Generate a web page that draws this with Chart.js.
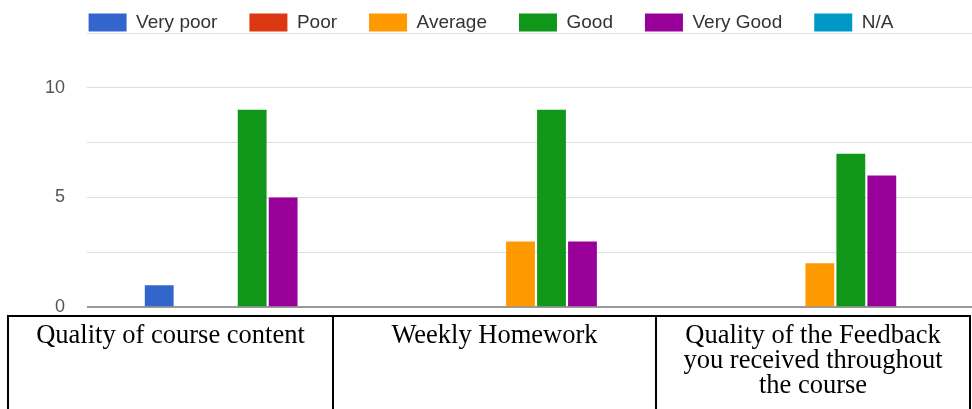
<!DOCTYPE html>
<html>
<head>
<meta charset="utf-8">
<script src="https://cdn.jsdelivr.net/npm/chart.js@4/dist/chart.umd.min.js"></script>
<style>
    html, body { margin: 0; padding: 0; background: #fff; width: 972px; height: 409px; overflow: hidden; position: relative; }
    #chart-wrap { position: absolute; left: -3px; top: -19px; width: 989px; height: 359px; }
    #labels-table {
        position: absolute; left: 7px; top: 315px;
        border-collapse: collapse; table-layout: fixed;
        font-family: "Liberation Serif", "Times New Roman", serif; font-size: 26.5px; line-height: 25px; color: #000;
    }
    #labels-table td {
        border: 2px solid #000; vertical-align: top; text-align: center;
        padding: 5px 4px 0 4px; height: 120px; white-space: pre-line;
    }
</style>
</head>
<body>
<div id="chart-wrap"><canvas id="ratingChart"></canvas></div>
<table id="labels-table"><tr id="labels-row"></tr></table>

<script>
// Survey ratings per question
const categories = [
    'Quality of course content',
    'Weekly Homework',
    'Quality of the Feedback\nyou received throughout\nthe course',
];
const ratingLabels = ['Very poor', 'Poor', 'Average', 'Good', 'Very Good', 'N/A'];
const veryPoor = [1, 0, 0];
const poor = [0, 0, 0];
const average = [0, 3, 2];
const good = [9, 9, 7];
const veryGood = [5, 3, 6];
const notApplicable = [0, 0, 0];
const yTickLabels = [0, 5, 10];
const colWidths = [325, 323, 314];

const colors = ['#3366cc', '#dc3912', '#ff9900', '#109618', '#990099', '#0099c6'];
const series = [veryPoor, poor, average, good, veryGood, notApplicable];

// Table under the chart holds the category labels
const row = document.getElementById('labels-row');
categories.forEach((c, i) => {
    const td = document.createElement('td');
    td.style.width = (colWidths[i] - 10) + 'px';
    td.textContent = c;
    row.appendChild(td);
});

// Keep legend short so the plot starts right under it
const legendHeight = {
    id: 'legendHeight',
    afterInit(chart) {
        const legend = chart.legend;
        if (!legend) return;
        const fit = legend.fit;
        legend.fit = function () {
            fit.call(this);
            this.height = 52;
        };
    },
};

new Chart(document.getElementById('ratingChart'), {
    type: 'bar',
    data: {
        labels: categories,
        datasets: ratingLabels.map((name, i) => ({
            label: name,
            data: series[i],
            backgroundColor: colors[i],
            borderWidth: 0,
            categoryPercentage: 0.621,
            barPercentage: 0.93,
        })),
    },
    plugins: [legendHeight],
    options: {
        responsive: true,
        maintainAspectRatio: false,
        animation: false,
        layout: { padding: { left: 0, right: 1, top: 0, bottom: 0 } },
        plugins: {
            legend: {
                position: 'top',
                labels: {
                    boxWidth: 38,
                    boxHeight: 18,
                    padding: 32,
                    color: '#333',
                    font: { family: 'Arial, "Liberation Sans", sans-serif', size: 19 },
                },
            },
            tooltip: { enabled: false },
        },
        scales: {
            x: { display: false },
            y: {
                min: 0,
                max: 12.5,
                afterFit(scale) { scale.width = 90; },
                border: { display: false },
                grid: {
                    drawTicks: false,
                    color: ctx => ctx.tick && ctx.tick.value === 0 ? '#999' : '#ddd',
                    lineWidth: ctx => ctx.tick && ctx.tick.value === 0 ? 2 : 1,
                },
                ticks: {
                    stepSize: 2.5,
                    padding: 22,
                    color: '#555',
                    font: { family: 'Arial, "Liberation Sans", sans-serif', size: 18 },
                    callback: v => yTickLabels.includes(v) ? v : '',
                },
            },
        },
    },
});
</script>
</body>
</html>
